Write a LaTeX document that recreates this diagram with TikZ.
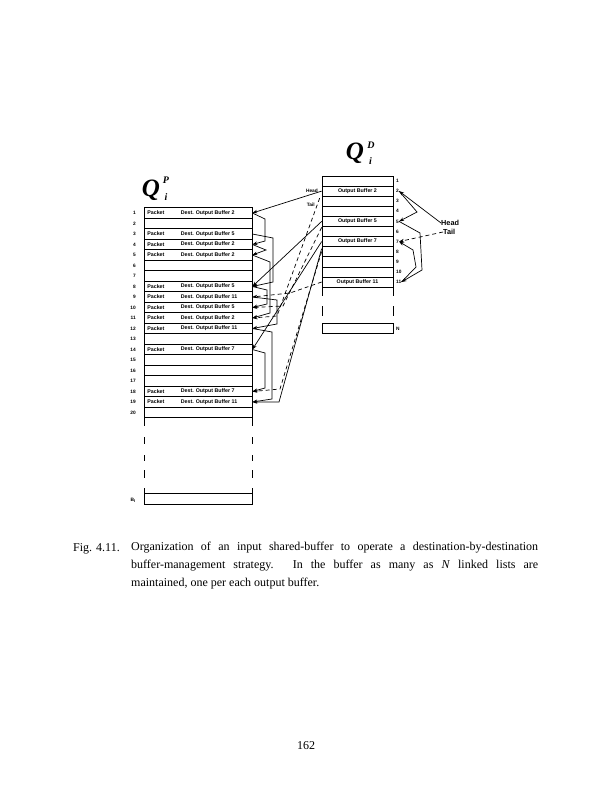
\documentclass[tikz,border=0pt]{standalone}
\usepackage{fontspec}
\setmainfont{Liberation Serif}
\newfontfamily\hv{Liberation Sans}
\usetikzlibrary{arrows.meta,calc}
\begin{document}
\begin{tikzpicture}[x=1pt,y=-1pt,
  rowbox/.style={draw,line width=0.7pt,minimum width=108pt,minimum height=10.5pt,inner sep=0pt},
  dbox/.style={draw,line width=0.7pt,minimum width=71pt,minimum height=10.1pt,inner sep=0pt},
  lbl/.style={font=\hv\bfseries\fontsize{5.3}{6}\selectfont,inner sep=0pt},
  num/.style={font=\hv\bfseries\fontsize{4.8}{6}\selectfont,inner sep=0pt},
  qbig/.style={font=\bfseries\itshape\fontsize{25}{25}\selectfont,inner sep=0pt},
  qsmall/.style={font=\bfseries\itshape\fontsize{10}{10}\selectfont,inner sep=0pt},
  arr/.style={line width=0.7pt,-{Stealth[length=5pt,width=3.5pt]}},
  darr/.style={arr,dash pattern=on 4pt off 3pt},
  ln/.style={line width=0.7pt}]
\useasboundingbox (0,0) rectangle (612,791);

% Q_i^P buffer
\foreach \n in {1,...,20}{
  \node[rowbox] (p\n) at (198,{213+(\n-1)*10.5}) {};
  \node[num,anchor=east] (pn\n) at (136,{213+(\n-1)*10.5}) {\n};
}
\foreach \n/\b in {1/2,3/5,4/2,5/2,8/5,9/11,10/5,11/2,12/11,14/7,18/7,19/11}{
  \node[lbl,anchor=west] (pk\n) at ($(p\n.west)+(3.5,0)$) {Packet};
  \node[lbl,anchor=west] (pd\n) at ($(p\n.west)+(37,0)$) {Dest. Output Buffer \b};
}
\node[rowbox] (pB) at (198,499) {};
\node[num,anchor=east] (pBn) at (136,500) {B\textsubscript{\fontsize{4}{5}\selectfont I}};
\foreach \x in {144,252}{
  \foreach \a/\b in {418/426,437/444,455/461,470/478,488/494}
    \draw[ln] (\x,\a) -- (\x,\b);
}
\node[qbig] (QP) at (151,190) {Q};
\node[qsmall] (QPs) at (166,180) {P};
\node[qsmall] (QPi) at (166,197) {i};

% Q_i^D buffer
\foreach \n in {1,...,11}{
  \node[dbox] (d\n) at (357.5,{181+(\n-1)*10.1}) {};
  \node[num,anchor=west] (dn\n) at (396,{181+(\n-1)*10.1}) {\n};
}
\foreach \n/\b in {2/2,5/5,7/7,11/11}{
  \node[lbl] (dl\n) at (d\n) {Output Buffer \b};
}
\node[dbox] (dN) at (357.5,328) {};
\node[num,anchor=west] (dNn) at (396,329) {N};
\foreach \x in {322,393}{
  \foreach \a/\b in {286/296,306/316}
    \draw[ln] (\x,\a) -- (\x,\b);
}
\node[qbig] (QD) at (355,153) {Q};
\node[qsmall] (QDs) at (371,145) {D};
\node[qsmall] (QDi) at (370.5,161) {i};

\node[num,anchor=east] (hd) at (318,191) {Head};
\node[num,anchor=east] (tl) at (315,205) {Tail};

% head pointers (solid)
\draw[arr] (d2.west) -- (p1.east);
\draw[arr] (d5.west) -- (p8.east);
\draw[arr] (d7.west) -- (p14.east);
\draw[arr] ($(d7.west)+(0,7)$) -- (279,402) -- (p19.east);
% tail pointers (dashed)
\draw[darr] ($(d2.west)+(-2,7)$) -- (277,316) -- (p11.east);
\draw[darr] ($(d5.west)+(0,6)$) -- (283,306) -- (p10.east);
\draw[darr] (d11.west) -- (290,293) -- (p9.east);
\draw[darr] ($(d7.west)+(0,10)$) -- (280,389) -- (p18.east);

% chains inside Q_i^P
\draw[arr] (p1.east) -- (265,219) -- (265,241) -- (p4.east);
\draw[arr] (p3.east) -- (273,238) -- (273,282) -- (p8.east);
\draw[arr] (p4.east) -- (266,250) -- (p5.east);
\draw[arr] (p5.east) -- (270,262) -- (270,313) -- (p11.east);
\draw[arr] (p8.east) -- (267,290) -- (267,304) -- (p10.east);
\draw[arr] (p9.east) -- (277,300) -- (277,324) -- (p12.east);
\draw[arr] (p12.east) -- (272,332) -- (272,399) -- (p19.east);
\draw[arr] (p14.east) -- (265,353) -- (265,388) -- (p18.east);

% right-hand example list
\coordinate (rh) at (441,223);
\coordinate (rt) at (443,232);
\node[font=\hv\bfseries\fontsize{7.3}{8}\selectfont,anchor=west,inner sep=0pt] (RH) at (rh) {Head};
\node[font=\hv\bfseries\fontsize{7.3}{8}\selectfont,anchor=west,inner sep=0pt] (RT) at (rt) {Tail};
\draw[arr] (RH.west) -- (dn2.east);
\draw[arr] (dn2.east) -- (417,212) -- (dn5.east);
\draw[arr] (dn5.east) -- (420,233) -- (422,270) -- (dn11.east);
\draw[arr] (dn11.east) -- (416,267) -- (413,250) -- (dn7.east);
\draw[darr] (RT.west) -- (dn7.east);

% caption
\node[anchor=base west,inner sep=0pt,font=\fontsize{12}{18}\selectfont] (fig) at (73,551) {Fig. 4.11.};
\node[anchor=north west,inner sep=0pt,text width=407pt,align=justify,font=\fontsize{12}{18}\selectfont] (cap) at (131,542)
 {Organization of an input shared-buffer to operate a destination-by-destination\linebreak buffer-management strategy. In the buffer as many as \textit{N} linked lists are\linebreak maintained, one per each output buffer.};
\node[font=\fontsize{12}{14}\selectfont,inner sep=0pt] (pg) at (306,746) {162};
\end{tikzpicture}
\end{document}
